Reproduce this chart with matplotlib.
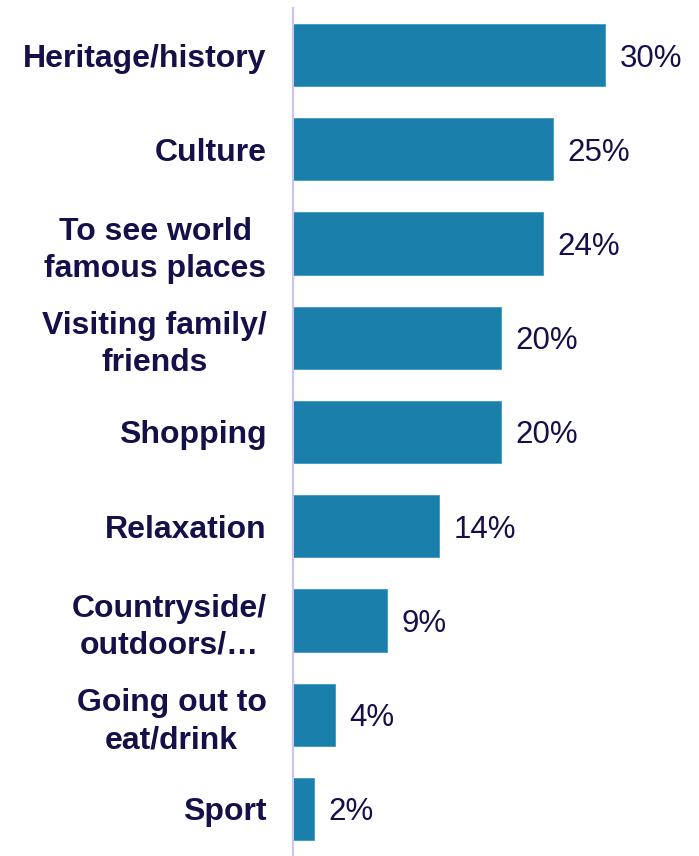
import matplotlib
matplotlib.use("Agg")
import matplotlib.pyplot as plt

plt.rcParams['font.family'] = ['Liberation Sans', 'DejaVu Sans']

categories = [
    "Heritage/history",
    "Culture",
    "To see world\nfamous places",
    "Visiting family/\nfriends",
    "Shopping",
    "Relaxation",
    "Countryside/\noutdoors/\u2026",
    "Going out to\neat/drink",
    "Sport",
]
values = [30, 25, 24, 20, 20, 14, 9, 4, 2]

bar_color = "#1a7fab"
text_color = "#14104a"
axis_color = "#cbc3f2"

fig = plt.figure(figsize=(6.99, 8.56), dpi=100)
ax = fig.add_axes([293 / 699, 0, 1 - 293 / 699, 848 / 856])

pos = list(range(len(categories)))
bars = ax.barh(pos, values, height=0.66, color=bar_color,
               edgecolor="#3d9ac2", linewidth=0.6)

ax.set_ylim(len(categories) - 0.5, -0.5)
ax.set_xlim(0, 39.0)

for b, v in zip(bars, values):
    ax.text(v + 1.4, b.get_y() + b.get_height() / 2, f"{v}%",
            va="center_baseline", ha="left", fontsize=22.5, color=text_color)

ax.set_yticks(pos)
ax.set_yticklabels(categories, fontsize=23, fontweight="bold",
                   color=text_color, linespacing=1.3,
                   multialignment="center")
ax.tick_params(axis="y", length=0, pad=19)
ax.set_xticks([])

for s in ["top", "right", "bottom"]:
    ax.spines[s].set_visible(False)
ax.spines["left"].set_color(axis_color)
ax.spines["left"].set_linewidth(1.5)

fig.savefig("out.png", dpi=100)
